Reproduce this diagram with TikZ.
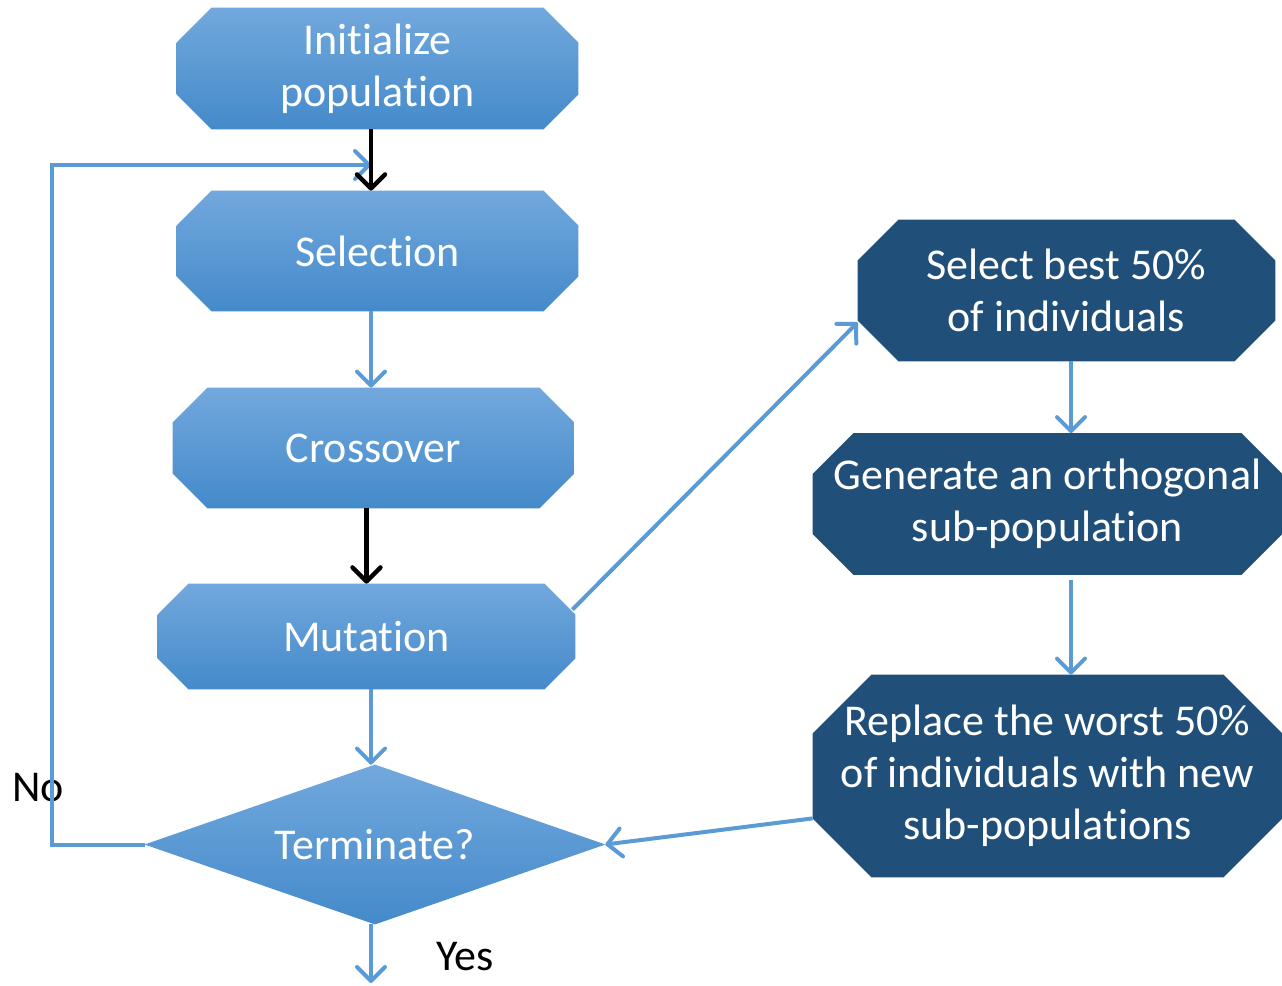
\documentclass[tikz,border=0pt]{standalone}
\usepackage{fontspec}
\setmainfont{Carlito}[Ligatures=NoCommon]
\usetikzlibrary{arrows.meta,backgrounds,calc}

\definecolor{flowblue}{RGB}{91,155,213}
\definecolor{boxtop}{RGB}{114,168,221}
\definecolor{boxmid}{RGB}{86,156,219}
\definecolor{boxbot}{RGB}{68,138,202}
\definecolor{darkbox}{RGB}{32,80,121}

% octagon (rectangle with cut corners) around a named node
\newcommand\octpath[3]{%
  \path[#3] ([xshift=#2]#1.north west) -- ([xshift=-#2]#1.north east)
    -- ([yshift=-#2]#1.north east) -- ([yshift=#2]#1.south east)
    -- ([xshift=-#2]#1.south east) -- ([xshift=#2]#1.south west)
    -- ([yshift=#2]#1.south west) -- ([yshift=-#2]#1.north west) -- cycle;}

\begin{document}
\begin{tikzpicture}[x=0.5pt,y=-0.5pt,
  boxtext/.style={align=center, font=\fontsize{22}{26}\selectfont,
    text=white, inner sep=0pt},
  plaintext/.style={font=\fontsize{22}{26}\selectfont, text=black, inner sep=0pt},
  lightfill/.style={top color=boxtop, middle color=boxmid, bottom color=boxbot},
  darkfill/.style={fill=darkbox},
  bluearrow/.style={draw=flowblue, line width=2pt,
    -{Straight Barb[length=7pt,width=14pt,round]}},
  blackarrow/.style={draw=black, line width=2.2pt,
    -{Straight Barb[length=7pt,width=14pt,round]}}]
\useasboundingbox (0,0) rectangle (1282,986);

% main loop boxes
\node[boxtext, minimum width=200.5pt, minimum height=60.5pt] (init) at (377.5,68.5) {Init\kern0pt ialize\\population};
\node[boxtext, minimum width=200.5pt, minimum height=60pt] (sel) at (377.5,251) {Selection};
\node[boxtext, minimum width=200.5pt, minimum height=60pt] (cross) at (373.5,448) {Crossover};
\node[boxtext, minimum width=208.5pt, minimum height=52.5pt] (mut) at (366.5,636.5) {Mutat\kern0pt ion};
\node[boxtext, minimum width=230pt, minimum height=79.5pt] (dia) at (375,844.5) {Terminate?};

% orthogonal sub-population branch
\node[boxtext, minimum width=208.5pt, minimum height=70.5pt] (best) at (1066.5,290.5) {Select best 50\%\\ of individuals};
\node[boxtext, minimum width=234.5pt, minimum height=70.5pt] (gen) at (1047.5,504) {Generate an orthogonal\\sub-population};
\node[boxtext, minimum width=234.5pt, minimum height=101pt] (rep) at (1047.5,776) {Replace the worst 50\%\\of individuals with new\\sub-populations};

\node[plaintext, anchor=base west] (no) at (12,801) {No};
\node[plaintext, anchor=base west] (yes) at (436,970) {Yes};

\begin{pgfonlayer}{background}
  \octpath{init}{17.5pt}{lightfill}
  \octpath{sel}{17.5pt}{lightfill}
  \octpath{cross}{17.5pt}{lightfill}
  \octpath{mut}{15.5pt}{lightfill}
  \path[lightfill] (dia.west) -- (dia.north) -- (dia.east) -- (dia.south) -- cycle;
  \octpath{best}{20.5pt}{darkfill}
  \octpath{gen}{20.5pt}{darkfill}
  \octpath{rep}{29.5pt}{darkfill}
\end{pgfonlayer}

% connectors
\coordinate (ax) at (371,0);
\coordinate (bx) at (1071,0);
\coordinate (loopx) at (52,0);
\coordinate (loopend) at (371,165);
\coordinate (yesend) at (371,983);

\draw[bluearrow] (dia.west) -- (dia.west -| loopx) |- (loopend);
\draw[blackarrow] (init.south -| ax) -- (sel.north -| ax);
\draw[bluearrow] (sel.south -| ax) -- (cross.north -| ax);
\draw[blackarrow] (cross.south -| mut.north) -- (mut.north);
\draw[bluearrow] (mut.south -| ax) -- (dia.north -| ax);
\draw[bluearrow] (dia.south -| ax) -- (yesend);

\draw[bluearrow] ([shift={(-3,26)}]mut.north east) -- ([shift={(0,-39)}]best.south west);
\draw[bluearrow] (best.south -| bx) -- (gen.north -| bx);
\draw[bluearrow] ([yshift=-2.5pt]gen.south -| bx) -- (rep.north -| bx);
\draw[bluearrow] ([shift={(0,-59)}]rep.south west) -- (dia.east);
\end{tikzpicture}
\end{document}
